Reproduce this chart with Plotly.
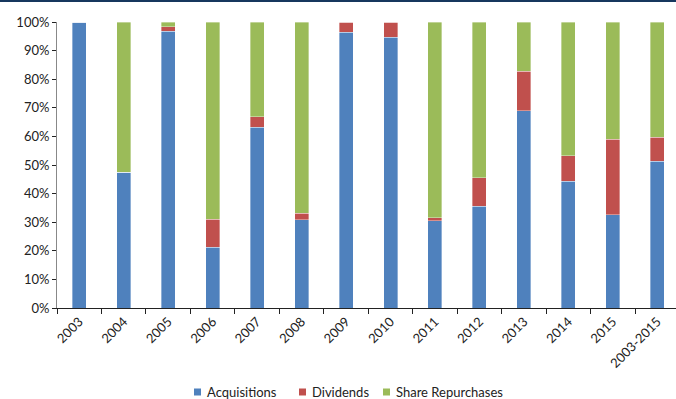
import plotly.graph_objects as go

years = ["2003", "2004", "2005", "2006", "2007", "2008", "2009", "2010",
         "2011", "2012", "2013", "2014", "2015", "2003-2015"]

# share of capital deployment, percent
acquisitions = [100.0, 47.4, 96.7, 21.2, 63.2, 30.8, 96.4, 94.6, 30.5, 35.6, 69.0, 44.4, 32.6, 51.4]
dividends = [0.0, 0.0, 1.6, 9.8, 3.7, 2.3, 3.6, 5.4, 1.0, 10.0, 13.8, 8.9, 26.4, 8.3]
share_repurchases = [0.0, 52.6, 1.7, 69.0, 33.1, 66.9, 0.0, 0.0, 68.5, 54.4, 17.2, 46.7, 41.0, 40.3]

series = [
    ("Acquisitions", acquisitions, "#4F81BD"),
    ("Dividends", dividends, "#C0504D"),
    ("Share Repurchases", share_repurchases, "#9BBB59"),
]

FONT = "Lato, 'Open Sans', sans-serif"

fig = go.Figure()
for name, vals, color in series:
    fig.add_trace(go.Bar(
        x=years, y=vals, name=name,
        marker=dict(color=color, line=dict(color="rgba(255,255,255,0.45)", width=0.8)),
        width=0.315,
    ))

W, H = 676, 399
ML, MR, MT, MB = 57, 0, 22, 91
pw, ph = W - ML - MR, H - MT - MB


def px_x(x):
    return (x - ML) / pw


def px_y(y):
    return (H - MB - y) / ph


fig.update_layout(
    width=W, height=H,
    barmode="stack",
    margin=dict(l=ML, r=MR, t=MT, b=MB, autoexpand=False),
    paper_bgcolor="white", plot_bgcolor="white",
    font=dict(family=FONT, size=13, color="#222222"),
    showlegend=False,
    xaxis=dict(
        type="category", range=[-0.5, 13.42], automargin=False,
        showline=True, linecolor="#222222", linewidth=1,
        ticks="outside", ticklen=5, tickcolor="#222222", tickson="boundaries",
        tickangle=-45, showgrid=False, tickfont=dict(size=13),
    ),
    yaxis=dict(
        range=[0, 100], tickvals=list(range(0, 101, 10)), automargin=False,
        ticktext=[f"{v}%" for v in range(0, 101, 10)],
        showline=True, linecolor="#888888", linewidth=1,
        ticks="outside", ticklen=4, tickcolor="#222222",
        showgrid=False, zeroline=False, tickfont=dict(size=13),
    ),
)

# legend: colour swatch followed by series name
legend_pos = [194, 299, 383]
for (name, _, color), x0 in zip(series, legend_pos):
    fig.add_shape(type="rect", xref="paper", yref="paper",
                  x0=px_x(x0), x1=px_x(x0 + 7), y0=px_y(395.5), y1=px_y(388.5),
                  fillcolor=color, line=dict(width=0))
    fig.add_annotation(text=name, xref="paper", yref="paper",
                       x=px_x(x0 + 11), y=px_y(392), xanchor="left", yanchor="middle",
                       showarrow=False, font=dict(size=13, color="#222222"))

# dark rule across the top of the page
fig.add_shape(type="rect", xref="paper", yref="paper",
              x0=px_x(0), x1=1.0, y0=px_y(2), y1=px_y(0),
              fillcolor="#17375E", line=dict(width=0), layer="above")

fig.write_html("out.html")
